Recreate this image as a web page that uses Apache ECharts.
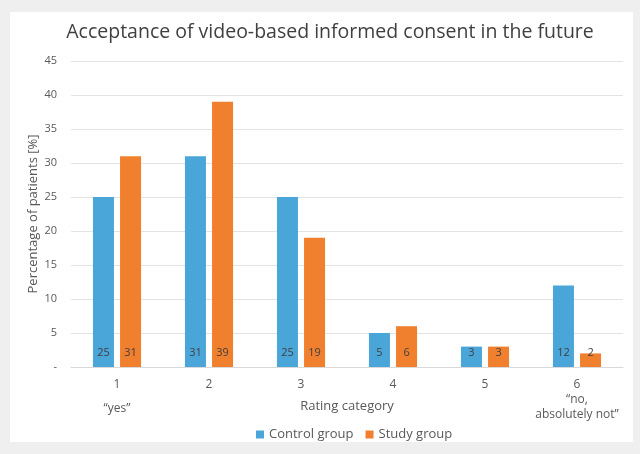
<!DOCTYPE html>
<html>
<head>
<meta charset="utf-8">
<script src="https://cdn.jsdelivr.net/npm/echarts@6/dist/echarts.min.js"></script>
<style>
html,body{margin:0;padding:0;background:#efefef;}
#c{width:640px;height:454px;}
</style>
</head>
<body>
<div id="c"></div>
<script>
var categories = ['1', '2', '3', '4', '5', '6'];
var categoryNotes = ['“yes”', '', '', '', '', '“no,\nabsolutely not”'];
var controlGroup = [25, 31, 25, 5, 3, 12];
var studyGroup = [31, 39, 19, 6, 3, 2];
var seriesNames = ['Control group', 'Study group'];
var yTicks = { min: 0, max: 45, interval: 5 };

var font = '"Open Sans", "Noto Sans", sans-serif';
var chart = echarts.init(document.getElementById('c'));
var labelStyle = {
  show: true, position: 'insideBottom', distance: 9,
  color: '#404040', fontSize: 11, fontFamily: font
};
chart.setOption({
  backgroundColor: '#efefef',
  animation: false,
  graphic: [{
    type: 'rect', left: 10, top: 12, z: -10,
    shape: { width: 623, height: 430 },
    style: { fill: '#ffffff' }
  }],
  title: {
    text: 'Acceptance of video-based informed consent in the future',
    left: 325, top: 17, textAlign: 'center',
    textStyle: { fontFamily: font, fontSize: 19.5, fontWeight: 'normal', color: '#404040' }
  },
  legend: {
    data: seriesNames, top: 423, left: 251, itemWidth: 8, itemHeight: 8, itemGap: 12,
    icon: 'rect',
    textStyle: { fontFamily: font, fontSize: 13, color: '#595959' }
  },
  grid: { left: 71, right: 17, top: 61, bottom: 87, containLabel: false },
  xAxis: {
    type: 'category', data: categories,
    axisLine: { lineStyle: { color: '#d9d9d9' } },
    axisTick: { show: false },
    axisLabel: {
      interval: 0, margin: 10, color: '#595959', fontFamily: font, fontSize: 12, lineHeight: 15,
      rich: { y: { fontFamily: font, fontSize: 12, color: '#595959', lineHeight: 34 } },
      formatter: function (v, i) {
        var n = categoryNotes[i];
        if (!n) return v;
        return n.indexOf('\n') < 0 ? v + '\n{y|' + n + '}' : v + '\n' + n;
      }
    },
    name: 'Rating category', nameLocation: 'middle', nameGap: 33, nameMoveOverlap: false,
    nameTextStyle: { color: '#595959', fontFamily: font, fontSize: 13 }
  },
  yAxis: {
    type: 'value', min: yTicks.min, max: yTicks.max, interval: yTicks.interval,
    axisLine: { show: false }, axisTick: { show: false },
    splitLine: { lineStyle: { color: '#e3e3e3' } },
    axisLabel: {
      color: '#595959', fontFamily: font, fontSize: 11, margin: 14,
      formatter: function (v) { return v === 0 ? '-' : v; }
    },
    name: 'Percentage of patients [%]', nameLocation: 'middle', nameGap: 31, nameMoveOverlap: false,
    nameTextStyle: { color: '#595959', fontFamily: font, fontSize: 13 }
  },
  series: [
    { name: seriesNames[0], type: 'bar', data: controlGroup, barWidth: 21, barGap: '29%',
      itemStyle: { color: '#4aa6d8' }, label: labelStyle },
    { name: seriesNames[1], type: 'bar', data: studyGroup, barWidth: 21, barGap: '29%',
      itemStyle: { color: '#f07f2e' }, label: labelStyle }
  ]
});
</script>
</body>
</html>
